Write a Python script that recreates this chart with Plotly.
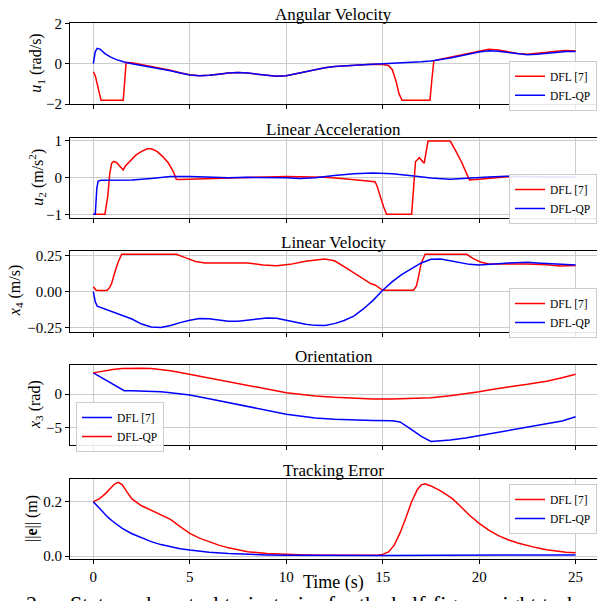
import plotly.graph_objects as go

# ---------------- data ----------------
# Panel 1: angular velocity u1 (rad/s)
u1_dfl_t = [0, 0.1, 0.2, 0.3, 0.4, 1.55, 1.62, 1.7, 2.0, 2.5, 3.0, 3.5, 4.0, 4.5, 5.0, 5.5, 6.0, 6.5, 7.0, 7.5,
            8.0, 8.5, 9.0, 9.5, 10.0, 10.5, 11.0, 11.5, 12.0, 12.5, 13.0, 13.5, 14.0, 14.5, 15.0, 15.3, 15.5,
            15.7, 15.85, 16.0, 17.45, 17.55, 17.65, 18.0, 18.5, 19.0, 19.5, 20.0, 20.5, 21.0, 21.5, 22.0, 22.5,
            23.0, 23.5, 24.0, 24.5, 25.0]
u1_dfl_v = [-0.4, -0.6, -1.0, -1.5, -1.82, -1.82, -0.8, 0.05, 0.04, -0.05, -0.14, -0.23, -0.33, -0.45, -0.55,
            -0.6, -0.58, -0.52, -0.46, -0.44, -0.46, -0.52, -0.58, -0.62, -0.6, -0.5, -0.38, -0.28, -0.2, -0.14,
            -0.1, -0.07, -0.05, -0.03, -0.04, -0.09, -0.3, -0.9, -1.5, -1.82, -1.82, -0.8, 0.14, 0.22, 0.32,
            0.43, 0.54, 0.63, 0.71, 0.68, 0.59, 0.5, 0.47, 0.5, 0.56, 0.62, 0.65, 0.63]
u1_qp_t = [0, 0.1, 0.2, 0.35, 0.6, 0.9, 1.2, 1.6, 2.0, 2.5, 3.0, 3.5, 4.0, 4.5, 5.0, 5.5, 6.0, 6.5, 7.0, 7.5,
           8.0, 8.5, 9.0, 9.5, 10.0, 10.5, 11.0, 11.5, 12.0, 12.5, 13.0, 13.5, 14.0, 14.5, 15.0, 15.5, 16.0,
           16.5, 17.0, 17.5, 18.0, 18.5, 19.0, 19.5, 20.0, 20.5, 21.0, 21.5, 22.0, 22.5, 23.0, 23.5, 24.0,
           24.5, 25.0]
u1_qp_v = [0.0, 0.6, 0.76, 0.72, 0.5, 0.32, 0.2, 0.08, 0.0, -0.08, -0.16, -0.25, -0.35, -0.46, -0.56, -0.6,
           -0.58, -0.52, -0.46, -0.44, -0.46, -0.52, -0.58, -0.62, -0.6, -0.5, -0.38, -0.28, -0.2, -0.14, -0.1,
           -0.07, -0.05, -0.03, -0.01, 0.01, 0.03, 0.06, 0.09, 0.13, 0.2, 0.28, 0.38, 0.48, 0.58, 0.64, 0.62,
           0.55, 0.48, 0.44, 0.46, 0.5, 0.56, 0.6, 0.6]

# Panel 2: linear acceleration u2 (m/s^2)
u2_dfl_t = [0, 0.6, 0.75, 0.85, 0.95, 1.05, 1.2, 1.4, 1.55, 1.65, 1.9, 2.2, 2.5, 2.8, 3.0, 3.3, 3.6, 3.9, 4.15,
            4.3, 4.5, 5.0, 6.0, 7.0, 8.0, 9.0, 10.0, 11.0, 12.0, 13.0, 14.0, 14.6, 14.7, 14.85, 15.05, 15.2,
            16.5, 16.6, 16.7, 16.9, 17.15, 17.35, 18.5, 18.8, 19.1, 19.35, 19.5, 20.0, 21.0, 21.6, 23.0, 25.0]
u2_dfl_v = [-1.0, -1.0, -0.5, 0.1, 0.38, 0.43, 0.4, 0.28, 0.2, 0.3, 0.45, 0.6, 0.7, 0.77, 0.77, 0.7, 0.56,
            0.38, 0.15, -0.05, -0.06, -0.05, -0.03, -0.01, 0.0, 0.01, 0.02, 0.02, 0.0, -0.04, -0.08, -0.12,
            -0.22, -0.48, -0.8, -1.0, -1.0, -0.3, 0.42, 0.53, 0.38, 0.98, 0.98, 0.7, 0.4, 0.1, -0.07, -0.05,
            0.0, 0.02, 0.01, 0.0]
u2_qp_t = [0, 0.1, 0.18, 0.25, 0.4, 1.0, 2.0, 3.0, 4.0, 5.0, 6.0, 7.0, 8.0, 9.0, 10.0, 10.7, 11.5, 12.5, 13.5,
           14.5, 15.5, 16.5, 17.5, 18.5, 19.5, 20.5, 21.4, 22.0, 23.0, 24.0, 25.0]
u2_qp_v = [-1.0, -1.0, -0.3, -0.1, -0.08, -0.08, -0.07, -0.03, 0.02, 0.02, 0.0, -0.01, 0.0, 0.0, -0.01, -0.03,
           -0.01, 0.05, 0.1, 0.12, 0.1, 0.04, -0.02, -0.05, -0.03, 0.01, 0.03, 0.03, 0.02, 0.0, 0.0]

# Panel 3: linear velocity x4 (m/s)
x4_dfl_t = [0, 0.15, 0.3, 0.7, 0.85, 0.95, 1.1, 1.3, 1.47, 4.3, 4.8, 5.3, 5.8, 6.5, 7.2, 8.0, 8.8, 9.5, 10.2,
            11.0, 12.0, 12.5, 13.0, 13.5, 14.0, 14.4, 14.6, 14.8, 15.0, 16.6, 16.75, 16.85, 17.0, 17.2, 19.35,
            19.7, 20.1, 20.5, 21.5, 22.5, 23.5, 24.2, 25.0]
x4_dfl_v = [0.035, 0.01, 0.008, 0.008, 0.03, 0.058, 0.13, 0.21, 0.26, 0.26, 0.235, 0.21, 0.2, 0.2, 0.205, 0.2,
            0.185, 0.18, 0.19, 0.212, 0.227, 0.215, 0.175, 0.13, 0.085, 0.055, 0.047, 0.03, 0.01, 0.01, 0.04,
            0.1, 0.2, 0.26, 0.26, 0.23, 0.205, 0.193, 0.195, 0.193, 0.188, 0.178, 0.182]
x4_qp_t = [0, 0.1, 0.2, 0.5, 1.0, 1.5, 2.0, 2.5, 3.0, 3.5, 4.0, 4.5, 5.0, 5.5, 6.0, 6.5, 7.0, 7.5, 8.0, 8.5,
           9.0, 9.5, 10.0, 10.5, 11.0, 11.5, 12.0, 12.5, 13.0, 13.5, 14.0, 14.5, 15.0, 15.5, 16.0, 16.5, 17.0,
           17.5, 18.0, 18.5, 19.0, 19.5, 20.0, 20.5, 21.0, 21.5, 22.0, 22.5, 23.0, 23.5, 24.0, 24.5, 25.0]
x4_qp_v = [0.0, -0.07, -0.1, -0.115, -0.14, -0.165, -0.19, -0.225, -0.245, -0.248, -0.235, -0.215, -0.198,
           -0.187, -0.188, -0.197, -0.205, -0.206, -0.2, -0.19, -0.182, -0.185, -0.198, -0.213, -0.226, -0.234,
           -0.235, -0.222, -0.2, -0.17, -0.12, -0.06, 0.01, 0.07, 0.12, 0.16, 0.2, 0.225, 0.228, 0.215, 0.2,
           0.19, 0.185, 0.188, 0.195, 0.2, 0.204, 0.205, 0.2, 0.195, 0.19, 0.186, 0.185]

# Panel 4: orientation x3 (rad)
x3_dfl_t = [0, 0.4, 0.8, 1.2, 1.6, 2.0, 3.0, 3.5, 4.0, 4.5, 5.0, 6.0, 7.0, 8.0, 9.0, 10.0, 10.7, 11.5, 12.5,
            13.5, 14.5, 15.5, 15.9, 16.5, 17.0, 17.5, 18.5, 19.3, 20.0, 21.0, 22.0, 22.5, 23.5, 24.3, 25.0]
x3_dfl_v = [3.14, 2.5, 1.8, 1.15, 0.5, 0.48, 0.45, 0.35, 0.2, 0.05, -0.15, -0.7, -1.25, -1.8, -2.4, -3.0,
            -3.27, -3.55, -3.75, -3.87, -3.93, -3.98, -4.15, -5.3, -6.3, -7.05, -6.85, -6.55, -6.2, -5.7, -5.2,
            -5.0, -4.5, -4.0, -3.37]
x3_qp_t = [0, 0.5, 1.0, 1.5, 2.0, 2.5, 3.0, 3.5, 4.0, 4.5, 5.0, 6.0, 7.0, 8.0, 9.0, 10.0, 10.7, 11.5, 12.5,
           13.5, 14.5, 15.5, 16.5, 17.5, 18.5, 19.2, 20.0, 20.5, 21.0, 21.5, 22.5, 23.5, 24.3, 25.0]
x3_qp_v = [3.14, 3.45, 3.65, 3.78, 3.82, 3.82, 3.78, 3.65, 3.45, 3.2, 2.93, 2.4, 1.85, 1.35, 0.8, 0.2, -0.05,
           -0.3, -0.5, -0.66, -0.74, -0.74, -0.68, -0.55, -0.25, 0.0, 0.34, 0.6, 0.85, 1.05, 1.44, 1.9, 2.4,
           2.93]

# Panel 5: tracking error ||e|| (m)
err_dfl_t = [0, 0.3, 0.6, 0.9, 1.1, 1.3, 1.5, 1.75, 2.0, 2.5, 3.0, 3.5, 4.0, 4.5, 5.0, 5.5, 6.0, 6.5, 7.0, 7.5,
             8.0, 9.0, 10.0, 11.0, 12.0, 13.0, 14.0, 14.8, 15.0, 15.3, 15.6, 15.9, 16.2, 16.5, 16.8, 17.0, 17.2,
             17.5, 18.0, 18.6, 19.0, 19.5, 20.0, 20.5, 21.0, 21.5, 22.0, 22.5, 23.0, 23.5, 24.0, 24.5, 25.0]
err_dfl_v = [0.2, 0.21, 0.228, 0.25, 0.265, 0.271, 0.262, 0.235, 0.21, 0.185, 0.168, 0.153, 0.135, 0.108, 0.083,
             0.066, 0.052, 0.04, 0.03, 0.022, 0.016, 0.009, 0.006, 0.004, 0.003, 0.003, 0.003, 0.004, 0.006,
             0.015, 0.04, 0.085, 0.14, 0.2, 0.245, 0.262, 0.266, 0.258, 0.24, 0.212, 0.185, 0.15, 0.12, 0.095,
             0.075, 0.06, 0.048, 0.038, 0.03, 0.023, 0.018, 0.014, 0.012]
err_qp_t = [0, 0.25, 0.5, 0.75, 1.0, 1.5, 2.0, 2.5, 3.0, 3.5, 4.0, 4.5, 5.0, 6.0, 7.0, 8.0, 9.0, 10.0, 12.0,
            15.0, 18.0, 21.0, 25.0]
err_qp_v = [0.2, 0.18, 0.16, 0.143, 0.128, 0.102, 0.082, 0.066, 0.053, 0.042, 0.034, 0.027, 0.022, 0.014,
            0.009, 0.006, 0.004, 0.003, 0.002, 0.002, 0.003, 0.004, 0.004]

titles = ["Angular Velocity", "Linear Acceleration", "Linear Velocity", "Orientation", "Tracking Error"]
ylabels = ["<i>u</i><sub>1</sub> (rad/s)", "<i>u</i><sub>2</sub> (m/s<sup>2</sup>)",
           "<i>x</i><sub>4</sub> (m/s)", "<i>x</i><sub>3</sub> (rad)", "||<b>e</b>|| (m)"]
ytickvals = [[-2, 0, 2], [-1, 0, 1], [-0.25, 0, 0.25], [-5, 0], [0, 0.2]]
yticktext = [["−2", "0", "2"], ["−1", "0", "1"], ["−0.25", "0.00", "0.25"], ["−5", "0"], ["0.0", "0.2"]]
xtickvals = [0, 5, 10, 15, 20, 25]
xticktext = ["0", "5", "10", "15", "20", "25"]
legend_names = ["DFL [7]", "DFL-QP"]

# ---------------- layout geometry ----------------
W, H, L = 597, 601, 70
FONT = "Liberation Serif, Times New Roman, serif"
RED, BLUE = "#ff0000", "#0000ff"
panel_px = [(23.3, 104.0), (137.7, 217.7), (250.7, 331.7), (365.0, 445.0), (479.0, 559.0)]
yranges = [[-2.0, 2.0], [-1.09, 1.07], [-0.278, 0.285], [-7.58, 4.31], [-0.011, 0.2835]]
xrange_ = [-1.21, 26.11]
ylabel_px = [37, 37, 15, 35, 32]
legend_pos = [(1.0, 60.7, "right"), (1.0, 174.0, "right"), (1.0, 288.0, "right"),
              (76.0, 402.0, "left"), (1.0, 484.0, "right")]


def py(p):
    return 1 - p / H


def pxx(p):
    return (p - L) / (W - L)


series = [
    [(u1_dfl_t, u1_dfl_v, RED, legend_names[0]), (u1_qp_t, u1_qp_v, BLUE, legend_names[1])],
    [(u2_dfl_t, u2_dfl_v, RED, legend_names[0]), (u2_qp_t, u2_qp_v, BLUE, legend_names[1])],
    [(x4_dfl_t, x4_dfl_v, RED, legend_names[0]), (x4_qp_t, x4_qp_v, BLUE, legend_names[1])],
    [(x3_dfl_t, x3_dfl_v, BLUE, legend_names[0]), (x3_qp_t, x3_qp_v, RED, legend_names[1])],
    [(err_dfl_t, err_dfl_v, RED, legend_names[0]), (err_qp_t, err_qp_v, BLUE, legend_names[1])],
]

fig = go.Figure()
layout = dict(
    template="none",
    width=W, height=H,
    margin=dict(l=L, r=0, t=0, b=0, pad=0, autoexpand=False),
    plot_bgcolor="white", paper_bgcolor="white",
    font=dict(family=FONT, color="black", size=15),
    annotations=[],
)

for i in range(5):
    n = i + 1
    sfx = "" if n == 1 else str(n)
    leg = "legend" if n == 1 else f"legend{n}"
    for (t, v, c, name) in series[i]:
        fig.add_trace(go.Scatter(x=t, y=v, mode="lines", name=name,
                                 line=dict(color=c, width=1.5),
                                 xaxis=f"x{sfx}", yaxis=f"y{sfx}", legend=leg))
    top, bot = panel_px[i]
    layout[f"xaxis{sfx}"] = dict(
        domain=[0, 1], anchor=f"y{sfx}", range=xrange_, automargin=False,
        tickmode="array", tickvals=xtickvals, ticktext=xticktext, showticklabels=(n == 5),
        ticks="outside", ticklen=4, tickwidth=1, tickcolor="black",
        showline=True, mirror=True, linecolor="black", linewidth=1.2,
        showgrid=True, gridcolor="#cccccc", gridwidth=1, zeroline=False,
        tickfont=dict(size=15, family=FONT, color="black"),
        **({} if n == 1 else {"matches": "x"}),
    )
    layout[f"yaxis{sfx}"] = dict(
        domain=[py(bot), py(top)], anchor=f"x{sfx}", range=yranges[i], automargin=False,
        tickmode="array", tickvals=ytickvals[i], ticktext=yticktext[i],
        ticks="outside", ticklen=4, tickwidth=1, tickcolor="black",
        showline=True, mirror=False, linecolor="black", linewidth=1.2,
        showgrid=True, gridcolor="#cccccc", gridwidth=1, zeroline=False,
        tickfont=dict(size=15, family=FONT, color="black"),
    )
    # subplot title
    layout["annotations"].append(dict(
        text=titles[i], xref="paper", yref="paper", x=0.5, y=py(top),
        xanchor="center", yanchor="bottom", yshift=-3, showarrow=False,
        font=dict(size=17, family=FONT)))
    # y label
    layout["annotations"].append(dict(
        text=ylabels[i], xref="paper", yref="paper", x=pxx(ylabel_px[i]), y=py((top + bot) / 2),
        xanchor="center", yanchor="middle", textangle=-90, showarrow=False,
        font=dict(size=16, family=FONT)))
    lx, ly, anc = legend_pos[i]
    layout[leg] = dict(
        x=(1.0 if anc == "right" else pxx(lx)), xanchor=anc, y=py(ly), yanchor="top",
        bgcolor="rgba(255,255,255,0.9)", bordercolor="#cccccc", borderwidth=1,
        font=dict(size=11.5, family=FONT, color="black"), itemwidth=30, tracegroupgap=0,
    )

# x axis title
layout["annotations"].append(dict(
    text="Time (s)", xref="paper", yref="paper", x=0.5, y=py(582), xanchor="center", yanchor="middle",
    showarrow=False, font=dict(size=18, family=FONT)))
# caption below the figure, cut off by the bottom edge as in the reference
layout["annotations"].append(dict(
    text="2.", xref="paper", yref="paper", x=pxx(24), y=py(589), xanchor="left", yanchor="top",
    showarrow=False, font=dict(size=22, family=FONT)))
layout["annotations"].append(dict(
    text="State and control trajectories for the half-figure-eight task.", xref="paper", yref="paper",
    x=pxx(68), y=py(589), xanchor="left", yanchor="top",
    showarrow=False, font=dict(size=22, family=FONT)))

fig.update_layout(**layout)
fig.write_html("out.html")
